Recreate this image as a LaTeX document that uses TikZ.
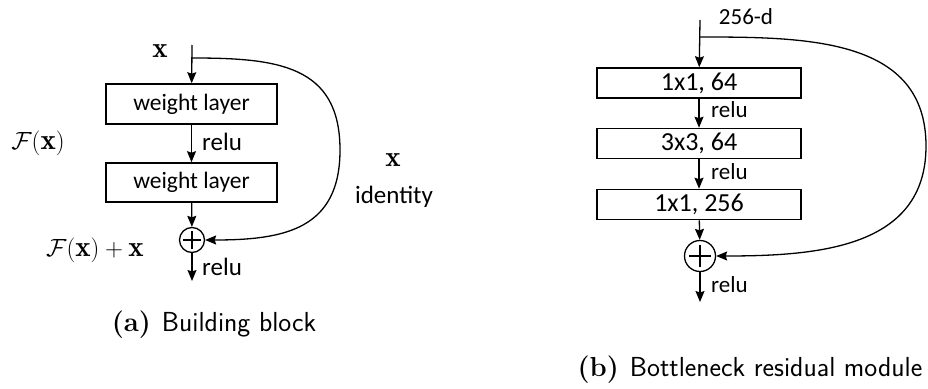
\documentclass[tikz,border=0pt]{standalone}
\usepackage{fontspec}
\usetikzlibrary{arrows.meta,calc}
\newfontfamily\lblfont{Carlito}
\tikzset{
  conn/.style={line width=1.3pt},
  arr/.style={conn,-{Stealth[length=11pt,width=9pt,inset=1.5pt]}},
  layer/.style={draw,line width=1.6pt,inner sep=0pt,font=\lblfont\fontsize{23.5}{26}\selectfont},
  layerb/.style={layer,font=\lblfont\fontsize{26}{28}\selectfont},
  sumnode/.style={draw,circle,line width=1.3pt,inner sep=0pt},
  lbl/.style={inner sep=0pt,font=\lblfont\fontsize{25}{28}\selectfont},
  lblb/.style={inner sep=0pt,font=\lblfont\fontsize{23}{26}\selectfont},
  mathlbl/.style={inner sep=0pt,font=\fontsize{29}{32}\selectfont},
  captiontext/.style={inner sep=0pt,font=\fontsize{27.5}{30}\selectfont},
}
\newcommand{\plussign}[2]{%
  \draw[line width=1.3pt] ($(#1.center)+(0,#2)$) -- ($(#1.center)-(0,#2)$);
  \draw[line width=1.3pt] ($(#1.center)+(#2,0)$) -- ($(#1.center)-(#2,0)$);}
\begin{document}
\begin{tikzpicture}[x=1pt,y=-1pt]
\useasboundingbox (0,0) rectangle (928,388);

% ---- (a) building block ----
\coordinate (ain) at (192,45);
\coordinate (askip) at (192,58);
\coordinate (abend) at (340,150);
\coordinate (aout) at (192,281);
\node[layer,minimum width=171pt,minimum height=40pt] (aw1) at (191.5,104) {weight layer};
\node[layer,minimum width=171pt,minimum height=39pt] (aw2) at (191.5,182.5) {weight layer};
\node[sumnode,minimum size=25pt] (asum) at (192,240) {};
\plussign{asum}{9}

\draw[arr] (ain) -- (aw1);
\draw[arr] (aw1) -- (aw2);
\draw[arr] (aw2) -- (asum);
\draw[arr] (asum) -- (aout);
\draw[arr] (askip) to[out=0,in=90,looseness=1.25] (abend) to[out=-90,in=0,looseness=1.25] (asum);

\node[mathlbl] (ax) at (160,51) {$\mathbf{x}$};
\node[lbl,anchor=west] (arelu1) at (202,142) {relu};
\node[lbl,anchor=west] (arelu2) at (202,267) {relu};
\node[mathlbl] (afx) at (38,143) {$\mathcal{F}(\mathbf{x})$};
\node[mathlbl] (afxx) at (95,250) {$\mathcal{F}(\mathbf{x})+\mathbf{x}$};
\node[mathlbl] (aid) at (393,160) {$\mathbf{x}$};
\node[lbl] (aidt) at (394,197) {identity};
\node[captiontext] (capa) at (214,325) {\textbf{(a)}\hspace{0.4em}\textsf{Building block}};

% ---- (b) bottleneck residual module ----
\coordinate (bin) at (700,20);
\coordinate (bskip) at (700,37);
\coordinate (bbend) at (926,146);
\coordinate (bout) at (700,302);
\node[layerb,minimum width=204pt,minimum height=30pt] (bc1) at (699,83) {1x1, 64};
\node[layerb,minimum width=204pt,minimum height=30pt] (bc2) at (699,143.5) {3x3, 64};
\node[layerb,minimum width=204pt,minimum height=30pt] (bc3) at (699,204.5) {1x1, 256};
\node[sumnode,minimum size=31pt] (bsum) at (700,256) {};
\plussign{bsum}{11}

\draw[arr] (bin) -- (bc1);
\draw[arr] (bc1) -- (bc2);
\draw[arr] (bc2) -- (bc3);
\draw[arr] (bc3) -- (bsum);
\draw[arr] (bsum) -- (bout);
\draw[arr] (bskip) to[out=0,in=90,looseness=1.1] (bbend) to[out=-90,in=0,looseness=1.1] (bsum);

\node[lblb] (bdim) at (746,17) {256-d};
\node[lblb,anchor=west] (brelu1) at (711,110) {relu};
\node[lblb,anchor=west] (brelu2) at (711,172) {relu};
\node[lblb,anchor=west] (brelu3) at (711,285) {relu};
\node[captiontext] (capb) at (750,370) {\textbf{(b)}\hspace{0.4em}\textsf{Bottleneck residual module}};
\end{tikzpicture}
\end{document}
